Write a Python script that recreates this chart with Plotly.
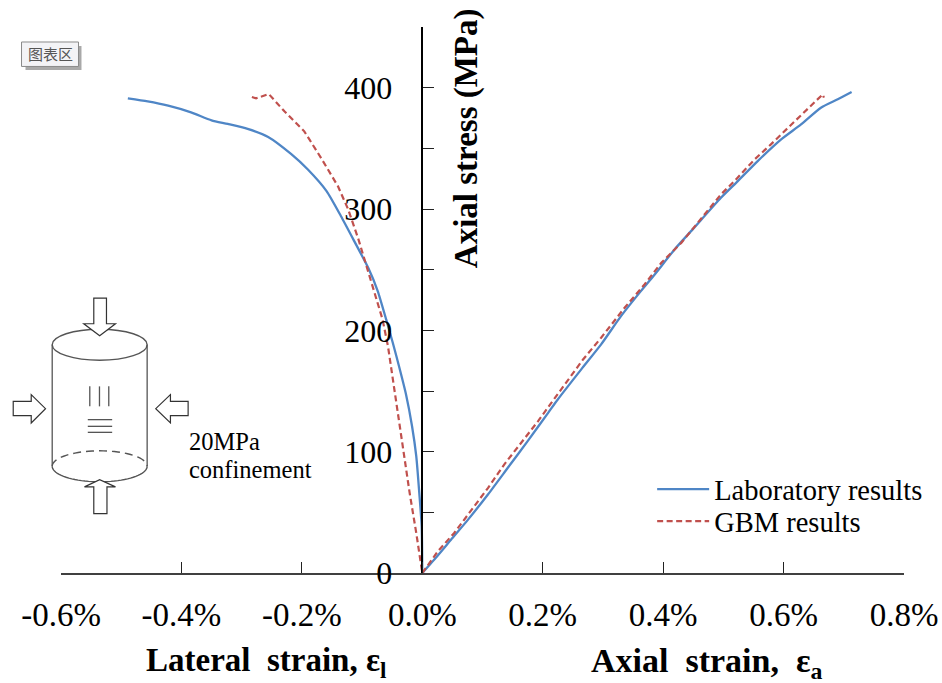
import math
import plotly.graph_objects as go

W, H = 942, 683
L, R, T, B = 60.5, 904.0, 27.0, 573.5

lab_lat_x = [-0.489,-0.456,-0.422,-0.384,-0.350,-0.323,-0.290,-0.256,-0.218,-0.190,-0.159,-0.135,-0.113,-0.090,-0.074,-0.060,-0.049,-0.038,-0.027,-0.017,-0.010,-0.005,-0.001,0.0]
lab_lat_y = [391.2,388.7,385.2,379.7,373.1,370.1,366.0,359.4,345.4,332.5,314.7,294.0,273.5,251.7,232.4,209.0,189.8,169.2,147.2,121.0,96.3,66.0,38.6,0.0]
gbm_lat_x = [-0.283,-0.276,-0.255,-0.229,-0.196,-0.168,-0.140,-0.123,-0.106,-0.091,-0.077,-0.066,-0.057,-0.049,-0.041,-0.032,-0.021,-0.010,0.0]
gbm_lat_y = [392.3,391.2,394.8,380.5,364.0,342.0,318.7,299.6,275.0,250.0,228.0,209.0,187.0,159.5,132.0,102.0,66.0,33.0,0.0]
lab_ax_x = [0.0,0.020,0.048,0.076,0.109,0.142,0.175,0.209,0.225,0.264,0.297,0.330,0.363,0.386,0.419,0.449,0.496,0.524,0.557,0.596,0.629,0.662,0.690,0.713]
lab_ax_y = [0.0,11.1,27.6,44.0,64.7,86.7,108.7,132.0,143.0,167.8,188.4,211.7,232.3,246.0,266.7,283.2,309.3,323.0,339.5,357.4,369.7,383.5,390.4,396.4]
gbm_ax_x = [0.0,0.026,0.053,0.081,0.109,0.136,0.164,0.192,0.214,0.267,0.297,0.336,0.369,0.397,0.430,0.446,0.496,0.521,0.552,0.579,0.613,0.646,0.665,0.667]
gbm_ax_y = [0.0,18.0,33.0,51.0,70.0,89.4,107.0,125.0,140.0,176.0,193.9,218.6,237.8,255.7,272.0,281.8,312.0,324.4,340.9,353.3,369.7,384.8,394.5,391.8]

x_ticks = [-0.6,-0.4,-0.2,0.0,0.2,0.4,0.6,0.8]
x_labels = ["-0.6%","-0.4%","-0.2%","0.0%","0.2%","0.4%","0.6%","0.8%"]
y_ticks = [0,100,200,300,400]
y_labels = ["0","100","200","300","400"]
y_minor = [50,150,250,350,450]

BLUE, RED = "#4F86C6", "#C0504D"
SERIF = "Liberation Serif"

px = lambda p: (p - L) / (R - L)
py = lambda p: (B - p) / (B - T)

fig = go.Figure()
blue_line = dict(color=BLUE, width=2.3, shape="spline", smoothing=0.6)
red_line = dict(color=RED, width=2.2, dash="6px,3.5px")
fig.add_trace(go.Scatter(x=lab_lat_x, y=lab_lat_y, mode="lines", name="Laboratory results", legendgroup="a",
                         line=blue_line))
fig.add_trace(go.Scatter(x=gbm_lat_x, y=gbm_lat_y, mode="lines", name="GBM results", legendgroup="b", legend="legend2",
                         line=red_line))
fig.add_trace(go.Scatter(x=lab_ax_x, y=lab_ax_y, mode="lines", showlegend=False, legendgroup="a",
                         line=blue_line))
fig.add_trace(go.Scatter(x=gbm_ax_x, y=gbm_ax_y, mode="lines", showlegend=False, legendgroup="b", legend="legend2",
                         line=red_line))

shapes = []
ink = "#555555"

def seg(x0, y0, x1, y1, dash="solid", color=ink, width=1.3):
    shapes.append(dict(type="line", xref="paper", yref="paper", x0=px(x0), y0=py(y0), x1=px(x1), y1=py(y1),
                       line=dict(color=color, width=width, dash=dash), layer="above"))

def poly(pts, color="#333333"):
    path = "M " + " L ".join(f"{px(a):.5f},{py(b):.5f}" for a, b in pts) + " Z"
    shapes.append(dict(type="path", xref="paper", yref="paper", path=path,
                       fillcolor="white", line=dict(color=color, width=1.2), layer="above"))

def arc(cx, cy, rx, ry, a0, a1, dash):
    pts = [(cx + rx * math.cos(math.radians(a0 + (a1 - a0) * i / 40)),
            cy + ry * math.sin(math.radians(a0 + (a1 - a0) * i / 40))) for i in range(41)]
    path = "M " + " L ".join(f"{px(a):.5f},{py(b):.5f}" for a, b in pts)
    shapes.append(dict(type="path", xref="paper", yref="paper", path=path,
                       line=dict(color=ink, width=1.4, dash=dash), layer="above"))

# cylinder sketch
shapes.append(dict(type="circle", xref="paper", yref="paper", x0=px(51.7), x1=px(146.7), y0=py(329.5), y1=py(360.5),
                   line=dict(color=ink, width=1.4), fillcolor="white"))
seg(51.7, 345, 51.7, 466.7)
seg(146.7, 345, 146.7, 466.7)
arc(99.2, 466.7, 47.5, 15.5, 0, 180, "solid")
arc(99.2, 466.7, 47.5, 15.5, 180, 360, "8px,5px")
for xv in (89.3, 99, 108.3):
    seg(xv, 386.7, xv, 406.7)
for yv in (420, 426.7, 432.7):
    seg(87.3, yv, 111.7, yv)
poly([(93.3,298.3),(106,298.3),(106,324),(115,324),(99.2,336),(83.3,324),(93.3,324)])
poly([(93.3,514),(106.5,514),(106.5,487.3),(115,487.3),(99.2,480),(84,487.3),(93.3,487.3)])
poly([(12.7,401.7),(30.7,401.7),(30.7,395),(45,409),(30.7,423.3),(30.7,416),(12.7,416)])
poly([(187.7,401.7),(170,401.7),(170,395),(155.3,409),(170,423.3),(170,416),(187.7,416)])

# chart-area button
shapes.append(dict(type="rect", xref="paper", yref="paper", x0=px(25), x1=px(81), y0=py(46), y1=py(70),
                   fillcolor="#A9A9A9", line=dict(width=0), layer="above"))
shapes.append(dict(type="rect", xref="paper", yref="paper", x0=px(21), x1=px(78), y0=py(42), y1=py(66.5),
                   fillcolor="#F3F3F6", line=dict(color="#8A8A8A", width=1), layer="above"))

def note(x, y, text, size, bold=False, anchor="left", angle=0, family=SERIF, color="black"):
    fig.add_annotation(xref="paper", yref="paper", x=px(x), y=py(y), text=f"<b>{text}</b>" if bold else text,
                       showarrow=False, xanchor=anchor, yanchor="middle", textangle=angle,
                       font=dict(family=family, size=size, color=color))

note(49.5, 54, "图表区", 15, anchor="center", family="Noto Sans CJK SC", color="#555555")
note(187, 442, "20MPa", 24.5)
note(187, 470, "confinement", 24.5)
note(144, 663, "Lateral  strain, ε<sub>l</sub>", 33, bold=True)
note(589, 664, "Axial  strain,  ε<sub>a</sub>", 34, bold=True)
note(467, 138, "Axial stress (MPa)", 33, bold=True, anchor="center", angle=-90)

legend_style = dict(xanchor="left", yanchor="middle", bgcolor="rgba(0,0,0,0)",
                    font=dict(family=SERIF, size=28.5), itemwidth=52, traceorder="normal")

fig.update_layout(
    width=W, height=H, autosize=False, paper_bgcolor="white", plot_bgcolor="white",
    margin=dict(l=L, r=W - R, t=T, b=H - B, pad=0, autoexpand=False),
    shapes=shapes,
    font=dict(family=SERIF, color="black"),
    legend=dict(x=px(652), y=py(490), **legend_style),
    legend2=dict(x=px(652), y=py(522), **legend_style),
    xaxis=dict(range=[-0.6, 0.8], tickmode="array", tickvals=x_ticks, ticktext=x_labels,
               showgrid=False, zeroline=False, showline=True, linecolor="#404040", linewidth=1.5,
               ticks="inside", ticklen=11, tickwidth=1.3, tickcolor="#222222",
               tickfont=dict(family=SERIF, size=33), ticklabelstandoff=12),
    yaxis=dict(range=[0, 450], anchor="free", position=0.6 / 1.4, tickmode="array", tickvals=y_ticks, ticktext=y_labels,
               showgrid=False, zeroline=False, showline=True, linecolor="black", linewidth=1.5,
               ticks="inside", ticklen=11, tickwidth=1.3, tickcolor="#222222",
               tickfont=dict(family=SERIF, size=32), ticklabelstandoff=23,
               minor=dict(tickmode="array", tickvals=y_minor, ticks="inside", ticklen=11, tickwidth=1.3, tickcolor="#222222", showgrid=False)),
)
fig.write_html("out.html", post_script="document.body.style.margin='0';", config=dict(displayModeBar=False))
